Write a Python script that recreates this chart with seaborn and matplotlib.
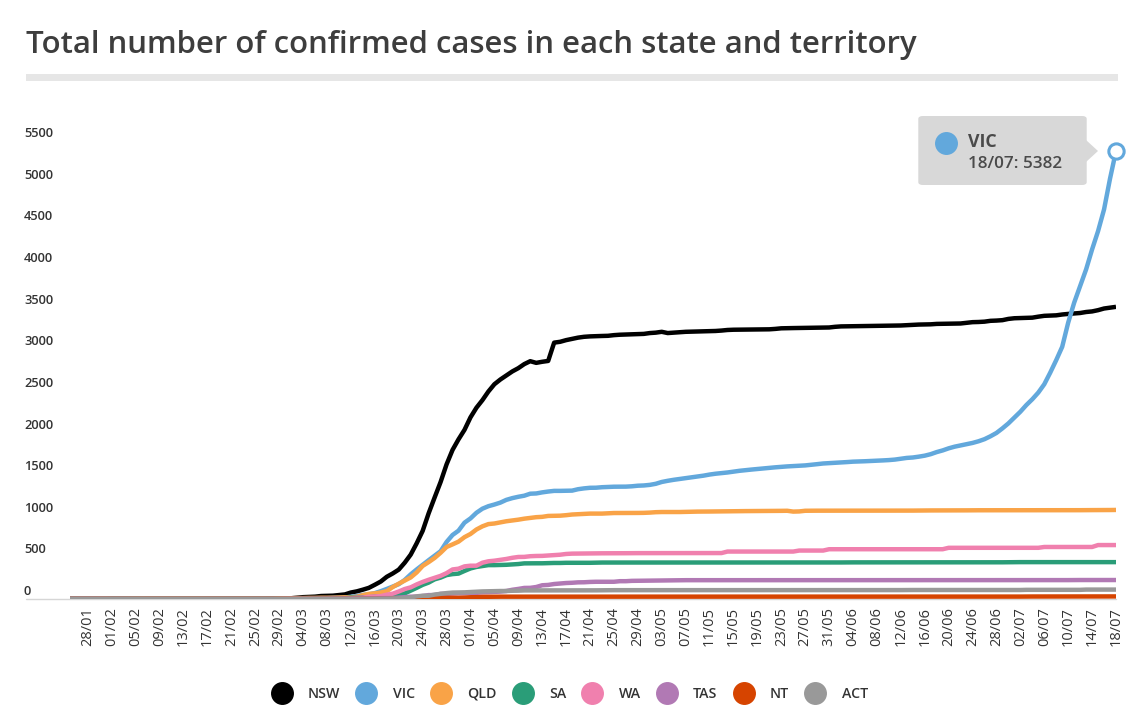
import matplotlib
matplotlib.use("Agg")
import matplotlib.pyplot as plt
import matplotlib.transforms as mtransforms
from matplotlib.lines import Line2D
from matplotlib.patches import FancyBboxPatch, Polygon, Rectangle
import seaborn as sns
import pandas as pd

# ---------------- data ----------------
states = ["NSW", "VIC", "QLD", "SA", "WA", "TAS", "NT", "ACT"]
colors = ["#000000", "#62a8dc", "#f9a347", "#2a9d78", "#f080ae", "#b179b4", "#d64400", "#999999"]

dates = [d.strftime("%d/%m") for d in pd.date_range("2020-01-25", "2020-07-18", freq="D")]

nsw = [3, 3, 4, 4, 4, 4, 4, 4, 4, 4,
       4, 4, 4, 4, 4, 4, 4, 4, 4, 4,
       4, 4, 4, 4, 4, 4, 4, 4, 4, 4,
       4, 4, 4, 4, 4, 4, 6, 9, 15, 22,
       25, 28, 36, 38, 40, 47, 55, 78, 92, 112,
       134, 171, 210, 267, 307, 353, 436, 533, 669, 818,
       1029, 1219, 1405, 1617, 1791, 1918, 2032, 2182, 2298, 2389,
       2493, 2580, 2637, 2686, 2734, 2773, 2822, 2857, 2837, 2850,
       2860, 3080, 3090, 3110, 3125, 3140, 3150, 3155, 3158, 3160,
       3162, 3170, 3175, 3178, 3180, 3182, 3185, 3195, 3200, 3210,
       3195, 3200, 3205, 3210, 3212, 3214, 3216, 3218, 3220, 3225,
       3232, 3235, 3236, 3237, 3238, 3239, 3240, 3240, 3245, 3252,
       3254, 3255, 3256, 3257, 3258, 3259, 3260, 3262, 3270, 3275,
       3276, 3277, 3278, 3279, 3280, 3281, 3282, 3283, 3284, 3286,
       3290, 3295, 3297, 3298, 3300, 3305, 3306, 3307, 3308, 3310,
       3318, 3326, 3328, 3332, 3342, 3345, 3350, 3365, 3373, 3375,
       3377, 3380, 3392, 3402, 3405, 3408, 3418, 3425, 3430, 3436,
       3448, 3455, 3470, 3490, 3500, 3510]

vic = [1, 1, 1, 1, 2, 2, 3, 4, 4, 4,
       4, 4, 4, 4, 4, 4, 4, 4, 4, 4,
       4, 4, 4, 4, 4, 4, 4, 4, 4, 4,
       4, 4, 4, 4, 4, 7, 7, 9, 9, 10,
       10, 11, 11, 11, 15, 15, 18, 27, 36, 49,
       57, 71, 94, 121, 150, 178, 229, 296, 355, 411,
       466, 520, 574, 685, 769, 821, 917, 968, 1036, 1085,
       1115, 1135, 1158, 1191, 1212, 1228, 1241, 1265, 1268, 1281,
       1291, 1299, 1299, 1301, 1302, 1319, 1329, 1336, 1337, 1343,
       1346, 1349, 1349, 1350, 1354, 1361, 1364, 1371, 1384, 1406,
       1420, 1432, 1442, 1452, 1462, 1472, 1482, 1495, 1505, 1512,
       1520, 1530, 1540, 1548, 1555, 1562, 1570, 1577, 1582, 1588,
       1593, 1597, 1600, 1605, 1612, 1620, 1628, 1632, 1637, 1640,
       1645, 1650, 1652, 1655, 1658, 1660, 1665, 1669, 1675, 1685,
       1695, 1700, 1710, 1722, 1740, 1765, 1785, 1810, 1830, 1845,
       1860, 1875, 1895, 1920, 1955, 1995, 2050, 2110, 2180, 2250,
       2330, 2400, 2480, 2580, 2720, 2870, 3030, 3320, 3560, 3760,
       3960, 4200, 4420, 4680, 5050, 5382]

qld = [0, 0, 0, 0, 1, 2, 2, 2, 2, 2,
       3, 4, 5, 5, 5, 5, 5, 5, 5, 5,
       5, 5, 5, 5, 5, 5, 5, 5, 5, 5,
       5, 5, 5, 5, 5, 9, 9, 9, 11, 11,
       13, 13, 15, 15, 15, 18, 20, 20, 27, 46,
       61, 68, 78, 94, 144, 184, 221, 259, 319, 397,
       443, 493, 555, 625, 656, 689, 743, 781, 835, 873,
       900, 907, 921, 934, 943, 953, 965, 974, 983, 987,
       998, 999, 1001, 1007, 1015, 1019, 1024, 1026, 1026, 1026,
       1030, 1033, 1033, 1033, 1034, 1034, 1035, 1038, 1043, 1045,
       1045, 1045, 1045, 1047, 1048, 1050, 1050, 1051, 1052, 1052,
       1054, 1054, 1055, 1056, 1056, 1057, 1058, 1058, 1058, 1059,
       1060, 1050, 1052, 1060, 1061, 1061, 1061, 1061, 1062, 1062,
       1062, 1062, 1062, 1062, 1062, 1062, 1062, 1062, 1062, 1062,
       1062, 1062, 1063, 1063, 1064, 1064, 1064, 1065, 1065, 1065,
       1065, 1066, 1066, 1066, 1066, 1066, 1066, 1066, 1067, 1067,
       1067, 1067, 1067, 1067, 1067, 1067, 1067, 1067, 1067, 1067,
       1068, 1068, 1068, 1068, 1069, 1070]

sa = [0, 0, 0, 0, 0, 0, 0, 2, 2, 2,
      2, 2, 2, 2, 2, 2, 2, 2, 2, 2,
      2, 2, 2, 2, 2, 2, 2, 2, 2, 2,
      2, 2, 2, 2, 2, 2, 2, 3, 3, 5,
      5, 7, 7, 7, 7, 7, 9, 16, 16, 20,
      20, 29, 30, 37, 42, 50, 67, 100, 134, 170,
      197, 236, 257, 287, 299, 305, 337, 367, 385, 396,
      407, 407, 409, 411, 415, 420, 428, 429, 429, 429,
      431, 433, 433, 435, 435, 435, 435, 435, 437, 438,
      438, 438, 438, 438, 438, 438, 438, 438, 438, 438,
      439, 439, 439, 439, 439, 439, 439, 439, 439, 439,
      439, 439, 439, 439, 439, 439, 439, 439, 439, 439,
      439, 439, 439, 439, 439, 439, 439, 439, 439, 439,
      440, 440, 440, 440, 440, 440, 440, 440, 440, 440,
      440, 440, 440, 440, 440, 440, 440, 440, 440, 440,
      440, 440, 440, 440, 440, 441, 441, 442, 442, 443,
      443, 443, 443, 443, 443, 443, 443, 443, 443, 443,
      443, 443, 443, 443, 443, 443]

wa = [0, 0, 0, 0, 0, 0, 0, 0, 0, 0,
      0, 0, 0, 0, 0, 0, 0, 0, 0, 0,
      0, 0, 0, 0, 0, 0, 0, 0, 0, 0,
      0, 0, 0, 0, 0, 0, 2, 2, 2, 3,
      3, 3, 3, 4, 4, 4, 4, 9, 14, 17,
      27, 31, 35, 52, 64, 90, 120, 140, 175, 205,
      231, 255, 278, 311, 355, 364, 392, 400, 400, 436,
      453, 460, 470, 481, 495, 505, 506, 514, 517, 518,
      523, 527, 532, 541, 545, 546, 546, 548, 549, 549,
      549, 550, 550, 550, 551, 551, 551, 551, 551, 551,
      551, 551, 551, 552, 552, 552, 552, 552, 552, 552,
      570, 570, 570, 570, 570, 570, 570, 570, 570, 570,
      570, 570, 582, 582, 582, 582, 582, 598, 598, 598,
      598, 598, 598, 598, 598, 598, 598, 598, 598, 598,
      598, 598, 598, 598, 598, 598, 598, 615, 615, 615,
      615, 615, 615, 615, 615, 615, 615, 615, 615, 615,
      615, 615, 615, 625, 625, 625, 625, 625, 625, 625,
      625, 625, 648, 648, 648, 648]

tas = [0, 0, 0, 0, 0, 0, 0, 0, 0, 0,
       0, 0, 0, 0, 0, 0, 0, 0, 0, 0,
       0, 0, 0, 0, 0, 0, 0, 0, 0, 0,
       0, 0, 0, 0, 0, 0, 0, 1, 1, 1,
       1, 1, 1, 2, 2, 2, 5, 5, 7, 7,
       7, 7, 10, 10, 11, 16, 22, 28, 28, 36,
       47, 47, 62, 62, 66, 69, 69, 72, 74, 80,
       82, 86, 89, 96, 111, 121, 133, 134, 144, 165,
       169, 180, 186, 192, 195, 200, 201, 205, 207, 207,
       207, 207, 214, 214, 218, 219, 221, 221, 223, 223,
       225, 226, 226, 226, 226, 226, 226, 227, 227, 227,
       227, 227, 227, 227, 227, 227, 227, 227, 227, 227,
       227, 227, 227, 227, 227, 227, 227, 227, 227, 227,
       227, 227, 227, 227, 227, 227, 227, 227, 227, 227,
       227, 227, 227, 227, 227, 227, 227, 227, 227, 227,
       227, 227, 227, 227, 227, 227, 227, 227, 227, 227,
       227, 227, 227, 227, 227, 227, 227, 227, 228, 228,
       228, 228, 228, 228, 228, 228]

nt = [0, 0, 0, 0, 0, 0, 0, 0, 0, 0,
      0, 0, 0, 0, 0, 0, 0, 0, 0, 0,
      0, 0, 0, 0, 0, 0, 0, 0, 0, 0,
      0, 0, 0, 0, 0, 0, 0, 0, 0, 1,
      1, 1, 1, 1, 1, 1, 1, 1, 1, 1,
      1, 1, 1, 1, 3, 3, 5, 5, 6, 6,
      12, 12, 15, 15, 15, 15, 17, 21, 22, 26,
      27, 27, 28, 28, 28, 28, 28, 28, 28, 28,
      28, 28, 28, 28, 28, 28, 28, 28, 28, 28,
      28, 28, 28, 28, 28, 28, 28, 28, 28, 28,
      29, 29, 29, 29, 29, 29, 29, 29, 29, 29,
      29, 29, 29, 29, 29, 29, 29, 29, 29, 29,
      29, 29, 29, 29, 29, 29, 29, 29, 29, 29,
      29, 29, 29, 29, 29, 29, 29, 29, 29, 29,
      29, 29, 29, 29, 29, 29, 29, 29, 29, 29,
      29, 29, 29, 29, 29, 29, 29, 29, 29, 29,
      30, 30, 30, 30, 30, 30, 30, 30, 30, 30,
      31, 31, 31, 31, 31, 31]

act = [0, 0, 0, 0, 0, 0, 0, 0, 0, 0,
       0, 0, 0, 0, 0, 0, 0, 0, 0, 0,
       0, 0, 0, 0, 0, 0, 0, 0, 0, 0,
       0, 0, 0, 0, 0, 0, 0, 0, 0, 0,
       0, 0, 0, 0, 0, 0, 0, 1, 1, 1,
       1, 1, 2, 3, 6, 9, 11, 19, 32, 39,
       39, 53, 62, 71, 77, 78, 80, 84, 87, 91,
       93, 96, 96, 96, 99, 100, 103, 103, 103, 102,
       103, 103, 103, 103, 103, 104, 104, 104, 104, 105,
       105, 106, 106, 106, 106, 106, 106, 106, 106, 106,
       107, 107, 107, 107, 107, 107, 107, 107, 107, 107,
       107, 107, 107, 107, 107, 107, 107, 107, 107, 107,
       107, 107, 107, 107, 107, 107, 107, 107, 107, 107,
       107, 107, 107, 107, 107, 107, 107, 107, 107, 107,
       108, 108, 108, 108, 108, 108, 108, 108, 108, 108,
       108, 108, 108, 108, 108, 108, 108, 108, 108, 108,
       110, 110, 110, 110, 110, 110, 110, 110, 110, 110,
       113, 113, 113, 113, 113, 113]

series = [nsw, vic, qld, sa, wa, tas, nt, act]
for s in series:
    assert len(s) == len(dates), len(s)

y_ticks = list(range(0, 5501, 500))
tick_idx = list(range(3, len(dates), 4))

# ---------------- figure ----------------
W, H = 1139, 716
sns.set_style("white")
plt.rcParams["font.family"] = ["Open Sans", "DejaVu Sans"]

fig = plt.figure(figsize=(W / 100, H / 100), dpi=100)
fig.patch.set_facecolor("white")

def fx(x):
    return x / W

def fy(y):
    return 1 - y / H

ax_left, ax_right, ax_zero, ax_top = 70, 1116, 599, 141.2
ax = fig.add_axes([fx(ax_left), fy(ax_zero), (ax_right - ax_left) / W, (ax_zero - ax_top) / H])
ax.set_facecolor("none")

rows = []
for st, vals in zip(states, series):
    for i, v in enumerate(vals):
        rows.append({"idx": i, "cases": v, "state": st})
df = pd.DataFrame(rows)

sns.lineplot(data=df, x="idx", y="cases", hue="state", hue_order=states,
             palette=dict(zip(states, colors)), linewidth=3.2, legend=False,
             ax=ax, estimator=None, sort=True)
for ln in ax.get_lines():
    ln.set_solid_joinstyle("round")
    ln.set_solid_capstyle("butt")

ax.set_xlim(0, len(dates) - 1)
ax.set_ylim(0, 5500)
for sp in ax.spines.values():
    sp.set_visible(False)
ax.grid(False)
ax.set_xlabel("")
ax.set_ylabel("")

ax.axhline(0, xmin=(26 - ax_left) / (ax_right - ax_left), xmax=1.0,
           color="#d6d6d6", lw=1, zorder=0, clip_on=False)

ax.set_xticks(tick_idx)
ax.set_xticklabels([dates[i] for i in tick_idx], rotation=90)
ax.tick_params(axis="x", length=0, pad=5.5, labelsize=10.5, labelcolor="#333333")

ax.set_yticks(y_ticks)
ax.set_yticklabels([str(v) for v in y_ticks])
ax.tick_params(axis="y", length=0, pad=(ax_left - 24) * 0.72, labelsize=9.3, labelcolor="#333333")
off = mtransforms.ScaledTranslation(0, 9 / 100, fig.dpi_scale_trans)
for lbl in ax.get_yticklabels():
    lbl.set_horizontalalignment("left")
    lbl.set_fontweight("semibold")
    lbl.set_transform(lbl.get_transform() + off)

# end point marker
ax.plot([len(vic) - 1], [vic[-1]], marker="o", ms=11, mfc="white", mec=colors[1],
        mew=2.2, clip_on=False, zorder=10, ls="none")

# title and rule
title = fig.text(fx(26.5), fy(52.7), "Total number of confirmed cases in each state and territory",
                 fontsize=24, fontweight="semibold", color="#3d3d3d", va="baseline", ha="left")
fig.canvas.draw()
w = title.get_window_extent().width
title.set_fontsize(24 * (922 - 26.5) / w)

fig.add_artist(Rectangle((fx(26), fy(81)), (1118 - 26) / W, 7 / H, transform=fig.transFigure,
                         facecolor="#e6e6e6", edgecolor="none"))

# tooltip
tip_bg = "#d8d8d8"
fig.add_artist(FancyBboxPatch((fx(918.3), fy(185)), (1086.7 - 918.3) / W, (185 - 116) / H,
                              boxstyle="round,pad=0,rounding_size=0.004",
                              transform=fig.transFigure, facecolor=tip_bg, edgecolor="none"))
fig.add_artist(Polygon([(fx(1086), fy(140)), (fx(1098), fy(151)), (fx(1086), fy(162))],
                       closed=True, transform=fig.transFigure, facecolor=tip_bg, edgecolor="none"))
fig.add_artist(Line2D([fx(945.7)], [fy(142.7)], marker="o", ms=15.5, color=colors[1], ls="none",
                      transform=fig.transFigure))
fig.text(fx(968.3), fy(146.7), "VIC", fontsize=12.8, fontweight="bold", color="#4a4a4a",
         va="baseline", ha="left")
fig.text(fx(968.3), fy(168.3), f"{dates[-1]}: {vic[-1]}", fontsize=12.3, fontweight="semibold",
         color="#4a4a4a", va="baseline", ha="left")

# legend
handles = [Line2D([], [], ls="none", marker="o", ms=15.5, color=c) for c in colors]
leg = fig.legend(handles, states, loc="center", bbox_to_anchor=(0.5, fy(694)), ncol=len(states),
                 frameon=False, fontsize=10.2, handlelength=1.5, handletextpad=1.1,
                 columnspacing=1.1, borderpad=0, prop={"weight": "semibold", "size": 10.2})
for t in leg.get_texts():
    t.set_color("#333333")

fig.savefig("out.png", dpi=100, facecolor="white")
